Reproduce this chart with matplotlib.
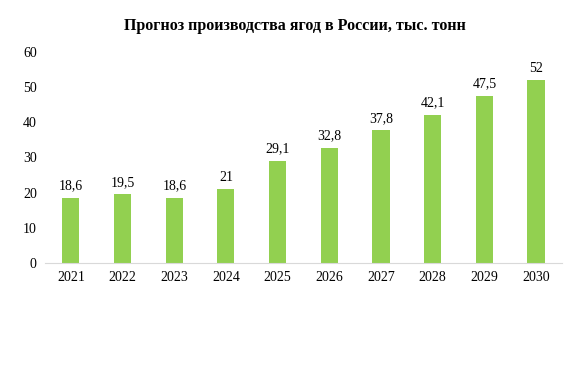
import numpy as np
import matplotlib.pyplot as plt

years = ['2021', '2022', '2023', '2024', '2025', '2026', '2027', '2028', '2029', '2030']
values = [18.6, 19.5, 18.6, 21, 29.1, 32.8, 37.8, 42.1, 47.5, 52]
labels = ['18,6', '19,5', '18,6', '21', '29,1', '32,8', '37,8', '42,1', '47,5', '52']

plt.rcParams['font.family'] = ['Liberation Serif', 'DejaVu Serif']

fig = plt.figure(figsize=(5.71, 3.82), dpi=100)
ax = fig.add_axes([0.079, 0.3115, 0.905, 0.5524])

x = np.arange(len(years))
bars = ax.bar(x, values, width=0.33, color='#92D050', zorder=2)
for xi, v, lab in zip(x, values, labels):
    ax.text(xi, v + 1.5, lab, ha='center', va='bottom', fontsize=10)

ax.set_xlim(-0.5, len(years) - 0.5)
ax.set_ylim(0, 60)
ax.set_yticks(range(0, 61, 10))
ax.set_xticks(x)
ax.set_xticklabels(years)
ax.tick_params(length=0, labelsize=10, pad=6)
for s in ['top', 'right', 'left']:
    ax.spines[s].set_visible(False)
ax.spines['bottom'].set_color('#d9d9d9')

fig.text(0.517, 0.933, 'Прогноз производства ягод в России, тыс. тонн',
         ha='center', va='center', fontsize=11.5, fontweight='bold')

fig.savefig('out.png', dpi=100)
